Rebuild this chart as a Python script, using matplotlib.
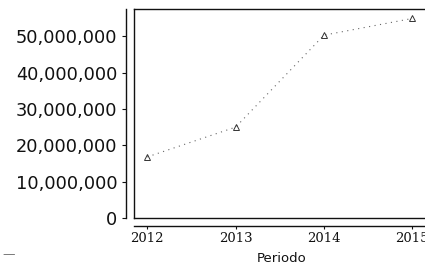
import numpy as np
import matplotlib.pyplot as plt
from matplotlib.ticker import FuncFormatter

periodos = [2012, 2013, 2014, 2015]
valores = [16800000, 25000000, 50300000, 54900000]
yticks = [0, 10000000, 20000000, 30000000, 40000000, 50000000]

fig = plt.figure(figsize=(4.25, 2.69), dpi=100)
ax = fig.add_axes([134 / 425, 1 - 218 / 269, (430 - 134) / 425, (218 - 9) / 269])

ax.plot(periodos, valores, linestyle=(0, (1, 4)), linewidth=0.8, color='#666666',
        marker='^', markersize=4, markerfacecolor='none', markeredgecolor='#333333',
        markeredgewidth=0.7)

ax.set_xlim(2011.85, 2015.2)
ax.set_ylim(0, 57500000)
ax.set_xticks(periodos)
ax.set_yticks(yticks)
ax.yaxis.set_major_formatter(FuncFormatter(lambda v, p: f'{int(v):,}'))

# outer offset axis lines, inner frame kept as a box
ax.spines['left'].set_position(('outward', 6))
ax.spines['bottom'].set_position(('outward', 6))
for s in ax.spines.values():
    s.set_linewidth(1.0)
    s.set_color('#111111')
ax.axvline(2011.85, color='#111111', linewidth=1.0, clip_on=False)
ax.axhline(0, color='#111111', linewidth=1.0, clip_on=False)

ax.tick_params(axis='y', length=3, width=0.8, labelsize=12.8, pad=3, colors='#111111')
ax.tick_params(axis='x', length=2, width=0.8, pad=2, colors='#111111')
for lab in ax.get_xticklabels():
    lab.set_family('DejaVu Serif')
    lab.set_fontsize(9.5)

ax.set_xlabel('Periodo', fontsize=9.5, labelpad=5, color='#111111')

fig.text(0.005, 0.04, '—', fontsize=9, color='#777777')

fig.savefig('out.png', dpi=100)
